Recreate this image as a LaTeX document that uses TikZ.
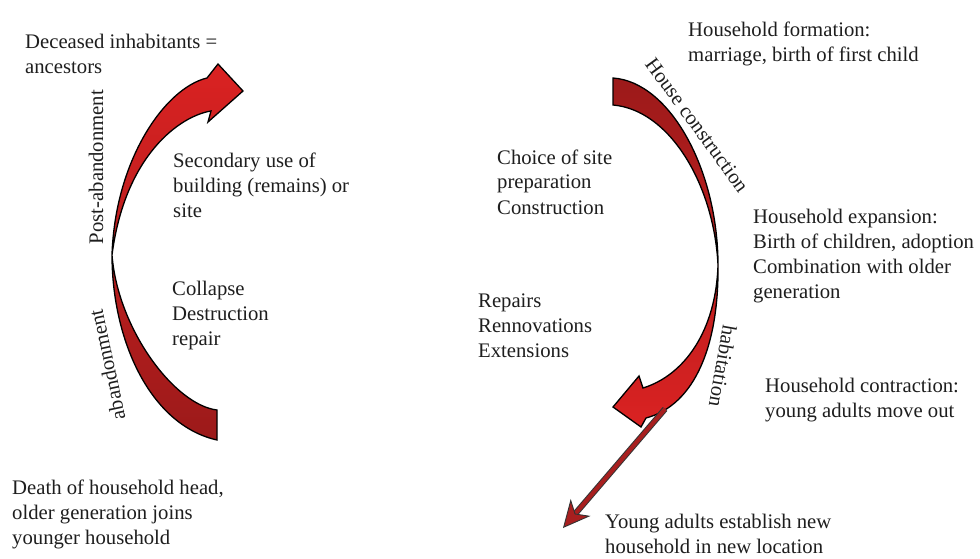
\documentclass[tikz,border=0pt]{standalone}
\usepackage{fontspec}
\setmainfont{Liberation Serif}
\usetikzlibrary{arrows.meta}
\definecolor{brightred}{HTML}{DA2222}
\definecolor{darkred}{HTML}{9C1A1A}
\definecolor{linered}{HTML}{A81F1F}
\definecolor{txt}{HTML}{1E1E1E}
\begin{document}
\begin{tikzpicture}[x=1pt,y=-1pt,
  lbl/.style={font=\fontsize{20.7}{25}\selectfont, text=txt, align=left, anchor=base west, inner sep=0pt},
  vlbl/.style={font=\fontsize{20.7}{25}\selectfont, text=txt, inner sep=0pt, anchor=center},
  band/.style={draw=black, line width=1.3pt, line join=miter}]
\path[use as bounding box, fill=white] (0,0) rectangle (980,559);

% left curved arrow (post-abandonment / abandonment)
\shadedraw[band, top color=brightred, bottom color=darkred]
  (217,440) .. controls (150,425) and (112,340) .. (112,255)
  .. controls (115,160) and (165,88) .. (207,78)
  -- (218,64) -- (243,91) -- (208,122) -- (211,111)
  .. controls (180,116) and (125,155) .. (112,255)
  .. controls (118,330) and (175,405) .. (217,410) -- cycle;

% right curved arrow (house construction / habitation)
\shadedraw[band, top color=darkred, bottom color=brightred]
  (613,78) .. controls (670,82) and (718,170) .. (718,265)
  .. controls (719,345) and (695,405) .. (646,418)
  -- (641,427) -- (613,407) -- (639,376) -- (643,388)
  .. controls (685,375) and (716,330) .. (718,265)
  .. controls (714,185) and (670,110) .. (613,105) -- cycle;

% straight arrow
\coordinate (ys) at (665,409);
\coordinate (ye) at (563,528);
\draw[line width=6pt, draw=black!80, shorten >=18pt] (ys) -- (ye);
\draw[line width=4pt, draw=linered, -{Stealth[length=27pt, width=26pt, inset=8pt, line width=0.9pt, fill=linered, color=black!80]}] (ys) -- (ye);

% texts (anchor = baseline of the last line)
\node[lbl] (dec) at (25,74) {Deceased inhabitants =\\ancestors};
\node[lbl] (sec) at (173,217) {Secondary use of\\building (remains) or\\site};
\node[lbl] (col) at (172,345) {Collapse\\Destruction\\repair};
\node[lbl] (dea) at (12,544) {Death of household head,\\older generation joins\\younger household};
\node[lbl] (for) at (688,62) {Household formation:\\marriage, birth of first child};
\node[lbl] (cho) at (497,214) {Choice of site\\preparation\\Construction};
\node[lbl] (exp) at (753,298) {Household expansion:\\Birth of children, adoption\\Combination with older\\generation};
\node[lbl] (rep) at (478,357) {Repairs\\Rennovations\\Extensions};
\node[lbl] (con) at (765,417) {Household contraction:\\young adults move out};
\node[lbl] (you) at (605,553) {Young adults establish new\\household in new location};

\node[vlbl, rotate=90] (post) at (96,167) {Post-abandonment};
\node[vlbl, rotate=102] (aban) at (107,365) {abandonment};
\node[vlbl, rotate=-100] (hab) at (723,366) {habitation};
\node[vlbl, rotate=-54] (hc) at (697,125) {House construction};
\end{tikzpicture}
\end{document}
